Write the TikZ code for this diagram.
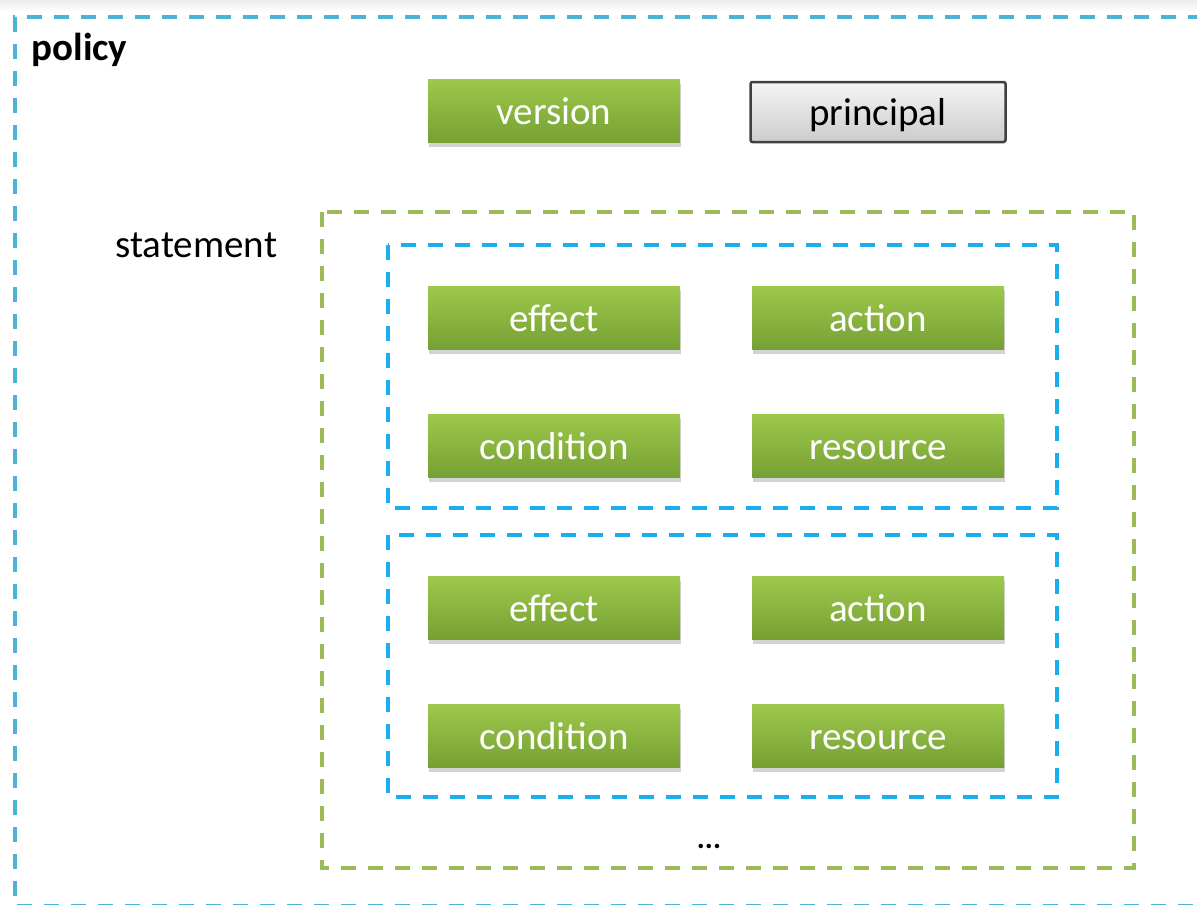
\documentclass[tikz,border=0pt]{standalone}
\usepackage{fontspec}
\setmainfont{Carlito}
\usetikzlibrary{shadows}

\definecolor{policyblue}{HTML}{4BB4D6}
\definecolor{stmtblue}{HTML}{1AAFEC}
\definecolor{stmtgreen}{HTML}{9BBB59}
\definecolor{greentop}{HTML}{9DC84B}
\definecolor{greenbot}{HTML}{76A033}

\tikzset{
  field/.style={rectangle,minimum width=252pt,minimum height=63pt,inner sep=0pt,
    text height=30pt,text depth=4pt,
    top color=greentop,bottom color=greenbot,text=white,
    drop shadow={shadow xshift=1pt,shadow yshift=-4pt,opacity=0.35},
    font=\fontsize{39}{42}\selectfont},
  greybox/.style={rectangle,rounded corners=2pt,minimum width=255pt,minimum height=60pt,inner sep=0pt,
    text height=30pt,text depth=4pt,
    top color=gray!8,bottom color=gray!40,draw=black!75,line width=2.5pt,
    font=\fontsize{39}{42}\selectfont},
  frame/.style={line width=3.2pt,dash pattern=on 15pt off 12pt},
  label/.style={anchor=west,font=\fontsize{39}{42}\selectfont}
}

\begin{document}
\begin{tikzpicture}[x=1pt,y=-1pt]
\useasboundingbox (0,0) rectangle (1197,905);
\clip (0,0) rectangle (1197,905);
\fill[top color=gray!15,bottom color=white] (0,0) rectangle (1197,12);

% policy
\draw[frame,policyblue] (1230,17) -- (15,17) -- (15,906) -- (1230,906);
\node[label,font=\fontsize{39}{42}\selectfont\bfseries] (policy) at (28,50) {policy};
\node[field] (version) at (554,111) {version};
\node[greybox] (principal) at (878,112) {principal};

% statement
\node[label] (statement) at (112,245) {statement};
\draw[frame,stmtgreen] (322,212) rectangle (1134,868);
\draw[frame,stmtblue] (388,245) rectangle (1057,508);
\draw[frame,stmtblue] (388,535) rectangle (1057,797);

\node[field] (effect1) at (554,318) {effect};
\node[field] (action1) at (878,318) {action};
\node[field] (condition1) at (554,446) {condition};
\node[field] (resource1) at (878,446) {resource};

\node[field] (effect2) at (554,608) {effect};
\node[field] (action2) at (878,608) {action};
\node[field] (condition2) at (554,736) {condition};
\node[field] (resource2) at (878,736) {resource};

\node[font=\fontsize{30}{32}\selectfont\bfseries] (more) at (709,846) {...};
\end{tikzpicture}
\end{document}
